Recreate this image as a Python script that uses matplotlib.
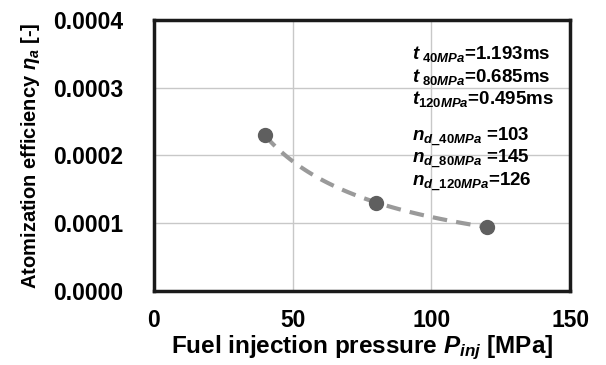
import numpy as np
import matplotlib.pyplot as plt

plt.rcParams['font.family'] = ['Liberation Sans', 'DejaVu Sans']
plt.rcParams['font.weight'] = 'bold'
plt.rcParams['mathtext.fontset'] = 'custom'
plt.rcParams['mathtext.rm'] = 'Liberation Sans:bold'
plt.rcParams['mathtext.it'] = 'Liberation Sans:italic:bold'
plt.rcParams['mathtext.bf'] = 'Liberation Sans:bold'

# injection pressure [MPa] and atomization efficiency [-]
pressure = [40, 80, 120]
efficiency = [0.000230, 0.000130, 0.0000945]

inj_time = ["1.193", "0.685", "0.495"]
droplets = [103, 145, 126]

x_ticks = [0, 50, 100, 150]
y_ticks = [0.0, 0.0001, 0.0002, 0.0003, 0.0004]

fig = plt.figure(figsize=(6.06, 3.65), dpi=100)
ax = fig.add_axes([0.254, 0.203, 0.687, 0.742])

# power-law trend through the measurements
b, loga = np.polyfit(np.log(pressure), np.log(efficiency), 1)
xs = np.linspace(pressure[0], pressure[-1], 100)
ax.plot(xs, np.exp(loga) * xs ** b, ls=(0, (3.5, 2.2)), lw=3, color='#9a9a9a', zorder=2)
ax.plot(pressure, efficiency, 'o', ms=10, color='#5f5f5f', zorder=3)

ax.set_xlim(0, 150)
ax.set_ylim(0, 0.0004)
ax.set_xticks(x_ticks)
ax.set_yticks(y_ticks)
ax.set_yticklabels([f"{v:.4f}" for v in y_ticks])
ax.tick_params(length=0, labelsize=16.5)
ax.tick_params(axis='x', pad=13)
ax.tick_params(axis='y', pad=22)
ax.grid(True, color='#c8c8c8', lw=1)
ax.set_axisbelow(True)
for s in ax.spines.values():
    s.set_linewidth(2.5)
    s.set_color('#1a1a1a')

ax.set_xlabel(r"Fuel injection pressure $\mathit{P_{inj}}$ [MPa]",
              fontsize=17.5, fontweight='bold', labelpad=1)
ax.set_ylabel(r"Atomization efficiency $\mathit{\eta_a}$ [-]",
              fontsize=14.5, fontweight='bold', labelpad=8)

labels = ["40", "80", "120"]
for i, (p, t) in enumerate(zip(labels, inj_time)):
    gap = r"\ " if len(p) == 2 else ""
    ax.text(93, 0.000350 - i * 0.0000335,
            r"$\mathit{t}_{%s\mathit{%sMPa}}$=%sms" % (gap, p, t),
            fontsize=13.5, va='center')
for i, (p, n) in enumerate(zip(labels, droplets)):
    gap = " " if len(p) == 2 else ""
    ax.text(93, 0.000227 - i * 0.0000335,
            r"$\mathit{n}_{\mathit{d\_%sMPa}}$%s=%d" % (p, gap, n),
            fontsize=13.5, va='center')

fig.savefig("out.png", dpi=100)
